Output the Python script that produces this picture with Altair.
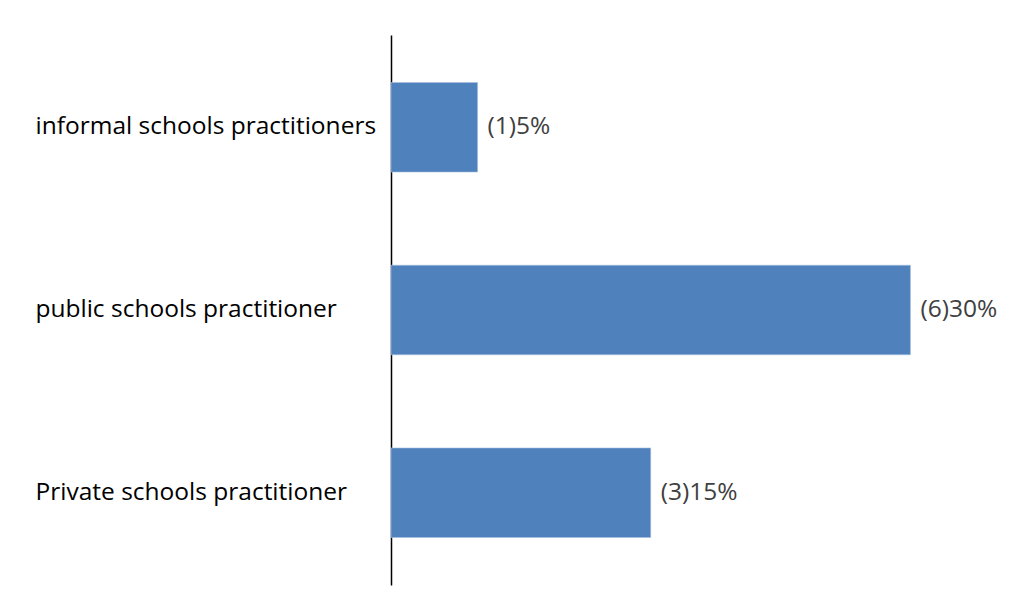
import altair as alt
import pandas as pd

categories = ["informal schools practitioners", "public schools practitioner", "Private schools practitioner"]
counts = [1, 6, 3]
percents = [5, 30, 15]

df = pd.DataFrame({
    "category": categories,
    "count": counts,
    "percent": percents,
})
df["label"] = ["(%d)%d%%" % (c, p) for c, p in zip(counts, percents)]

FONT = "Open Sans"
FS = 24.5

y_enc = alt.Y(
    "category:N",
    sort=categories,
    title=None,
    scale=alt.Scale(paddingInner=0.51, paddingOuter=0.26),
    axis=alt.Axis(
        labelAlign="left",
        labelPadding=356,
        ticks=False,
        tickSize=0,
        domainColor="#000000",
        domainWidth=1.5,
        labelFont=FONT,
        labelFontSize=FS,
        labelColor="#000000",
        labelLimit=400,
    ),
)
x_enc = alt.X("percent:Q", scale=alt.Scale(domain=[0, 35], nice=False), axis=None)

bars = alt.Chart(df).mark_bar(color="#4F81BD", stroke="#A7C0DE", strokeWidth=0.6).encode(y=y_enc, x=x_enc)
text = alt.Chart(df).mark_text(
    align="left", baseline="middle", dx=10, font=FONT, fontSize=FS, color="#404040"
).encode(y=alt.Y("category:N", sort=categories), x="percent:Q", text="label:N")

chart = (
    alt.layer(bars, text)
    .properties(width=606, height=550, padding={"left": 27, "top": 27, "right": 5, "bottom": 5})
    .configure_view(stroke=None)
)

chart.save("out.html", embed_options={"renderer": "svg", "actions": False})
